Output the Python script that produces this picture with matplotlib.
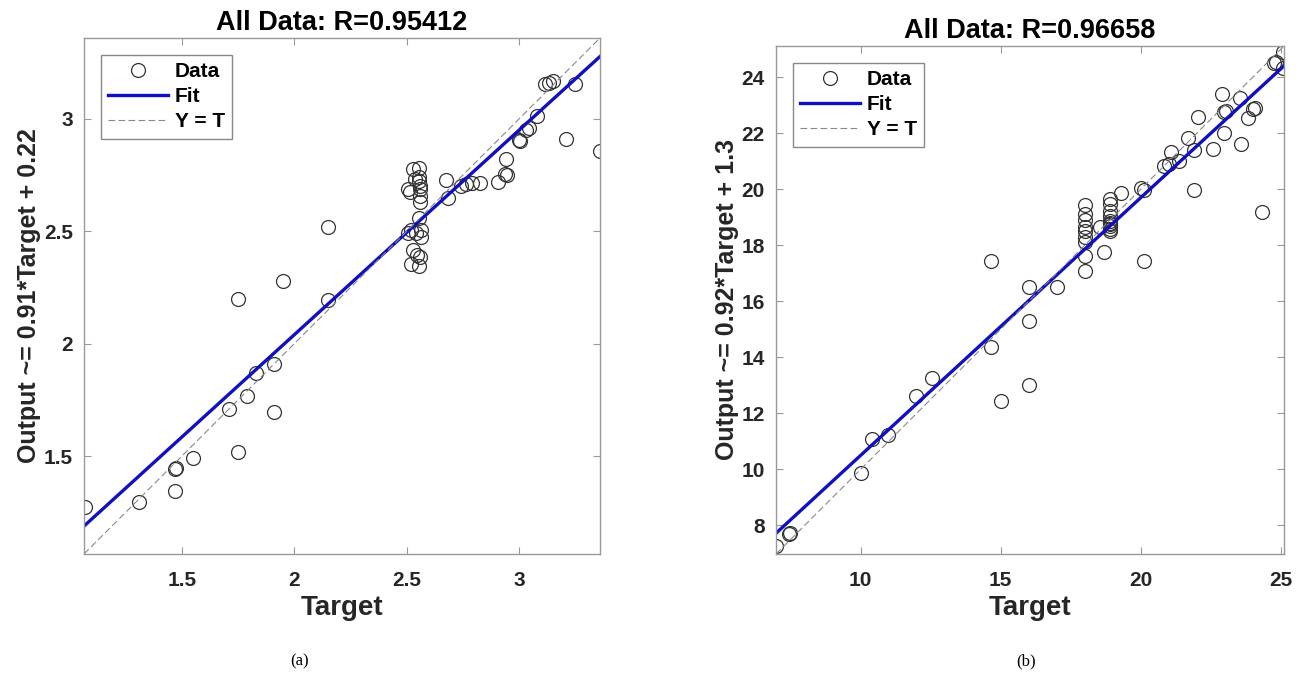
import numpy as np
import matplotlib
matplotlib.use("Agg")
from matplotlib import pyplot as plt

plt.rcParams['font.family'] = ['Liberation Sans', 'DejaVu Sans']
plt.rcParams['font.weight'] = 'bold'

# (a) targets / outputs
target_a = [1.068, 1.308, 1.470, 1.472, 1.470, 1.549, 1.710, 1.749, 1.749, 1.789, 1.830, 1.912, 1.912, 1.950, 2.152, 2.152,
            2.527, 2.557, 2.535, 2.555, 2.505, 2.517, 2.561, 2.561, 2.561, 2.553, 2.505, 2.520, 2.542, 2.565, 2.565,
            2.530, 2.545, 2.558, 2.520, 2.556, 2.555, 2.560,
            2.677, 2.684, 2.742, 2.765, 2.790, 2.827, 2.906, 2.939, 2.947, 2.942, 3.000, 3.005, 3.030, 3.044, 3.080,
            3.116, 3.134, 3.149, 3.209, 3.251, 3.359]
output_a = [1.272, 1.296, 1.441, 1.446, 1.346, 1.493, 1.711, 1.519, 2.200, 1.767, 1.872, 1.910, 1.696, 2.281, 2.195, 2.519,
            2.779, 2.782, 2.734, 2.726, 2.689, 2.674, 2.689, 2.659, 2.629, 2.561, 2.493, 2.508, 2.493, 2.508, 2.475,
            2.418, 2.395, 2.385, 2.355, 2.347, 2.740, 2.700,
            2.729, 2.648, 2.700, 2.709, 2.716, 2.716, 2.719, 2.756, 2.749, 2.824, 2.907, 2.900, 2.952, 2.960, 3.012,
            3.155, 3.158, 3.167, 2.911, 3.155, 2.857]
fit_a = (0.91, 0.22)
lim_a = (1.065, 3.36)
ticks_a = [1.5, 2, 2.5, 3]

# (b)
target_b = [6.98, 7.45, 7.47, 10.0, 10.42, 10.99, 11.97, 12.55, 14.65, 14.65, 15.0, 16.0, 16.0, 16.0, 17.0,
            18.0, 18.0, 18.0, 18.0, 18.0, 18.0, 18.0, 18.0, 18.0,
            18.54, 18.70,
            18.89, 18.89, 18.89, 18.89, 18.89, 18.89, 18.89, 18.89, 18.89, 18.89,
            19.30, 20.0, 20.13, 20.13, 20.83, 21.02, 21.08, 21.38, 21.68, 21.89, 21.89, 22.04, 22.59, 22.90,
            22.99, 23.06, 22.99, 23.54, 23.59, 23.82, 24.01, 24.08, 24.33, 24.78, 24.84, 25.07, 25.08]
output_b = [7.27, 7.70, 7.74, 9.88, 11.10, 11.24, 12.61, 13.25, 14.36, 17.43, 12.43, 16.52, 15.29, 13.0, 16.52,
            19.43, 19.13, 18.89, 18.65, 18.53, 18.29, 18.11, 17.62, 17.08,
            18.66, 17.77,
            19.67, 19.49, 19.24, 19.06, 18.88, 18.80, 18.75, 18.69, 18.60, 18.51,
            19.88, 20.04, 19.98, 17.43, 20.84, 20.90, 21.33, 21.03, 21.85, 21.40, 19.98, 22.59, 21.43, 23.42,
            22.75, 22.81, 22.01, 23.28, 21.62, 22.56, 22.87, 22.91, 19.18, 24.53, 24.55, 24.92, 24.35]
fit_b = (0.92, 1.3)
lim_b = (6.98, 25.12)
ticks_b_x = [10, 15, 20, 25]
ticks_b_y = [8, 10, 12, 14, 16, 18, 20, 22, 24]


def regression_panel(ax, t, o, fit, lim, xticks, yticks, title, ylabel):
    xs = np.array(lim)
    ax.plot(t, o, 'o', mfc='none', mec='#333333', ms=10, mew=0.9, label='Data')
    ax.plot(xs, fit[0] * xs + fit[1], color='#1010c0', lw=2.4, label='Fit')
    ax.plot(xs, xs, color='#888888', lw=0.8, ls=(0, (6, 3)), label='Y = T')
    ax.set_xlim(lim)
    ax.set_ylim(lim)
    ax.set_xticks(xticks)
    ax.set_yticks(yticks)
    ax.set_xticklabels([f'{v:g}' for v in xticks])
    ax.set_yticklabels([f'{v:g}' for v in yticks])
    ax.tick_params(direction='in', length=5, width=0.8, color='#999999', labelsize=15,
                   labelcolor='#262626', top=True, right=True)
    ax.tick_params(axis='x', pad=12)
    ax.tick_params(axis='y', pad=8)
    for s in ax.spines.values():
        s.set_color('#999999')
        s.set_linewidth(1.0)
    ax.set_title(title, fontsize=19.5, fontweight='bold', pad=6)
    ax.set_xlabel('Target', fontsize=20, fontweight='bold', color='#262626', labelpad=4)
    ax.set_ylabel(ylabel, fontsize=18, fontweight='bold', color='#262626', labelpad=2)
    leg = ax.legend(loc='upper left', fontsize=15, fancybox=False, edgecolor='#888888',
                    framealpha=1, handlelength=2.9, borderaxespad=0.8, handletextpad=0.3,
                    labelspacing=0.3, borderpad=0.35)
    leg.get_frame().set_linewidth(1.0)


fig = plt.figure(figsize=(13.09, 6.77), dpi=100)
W, H = 1309, 677
ax1 = fig.add_axes([84 / W, 1 - 554 / H, 516 / W, 516 / H])
ax2 = fig.add_axes([776 / W, 1 - 554 / H, 508 / W, 508 / H])

regression_panel(ax1, target_a, output_a, fit_a, lim_a, ticks_a, ticks_a,
                 'All Data: R=0.95412', 'Output ~= 0.91*Target + 0.22')
regression_panel(ax2, target_b, output_b, fit_b, lim_b, ticks_b_x, ticks_b_y,
                 'All Data: R=0.96658', 'Output ~= 0.92*Target + 1.3')

fig.text(300 / W, 1 - 661 / H, '(a)', family='Liberation Serif', fontweight='normal',
         fontsize=12, ha='center', va='center')
fig.text(1026 / W, 1 - 661 / H, '(b)', family='Liberation Serif', fontweight='normal',
         fontsize=12, ha='center', va='center')

fig.savefig('out.png', dpi=100)
